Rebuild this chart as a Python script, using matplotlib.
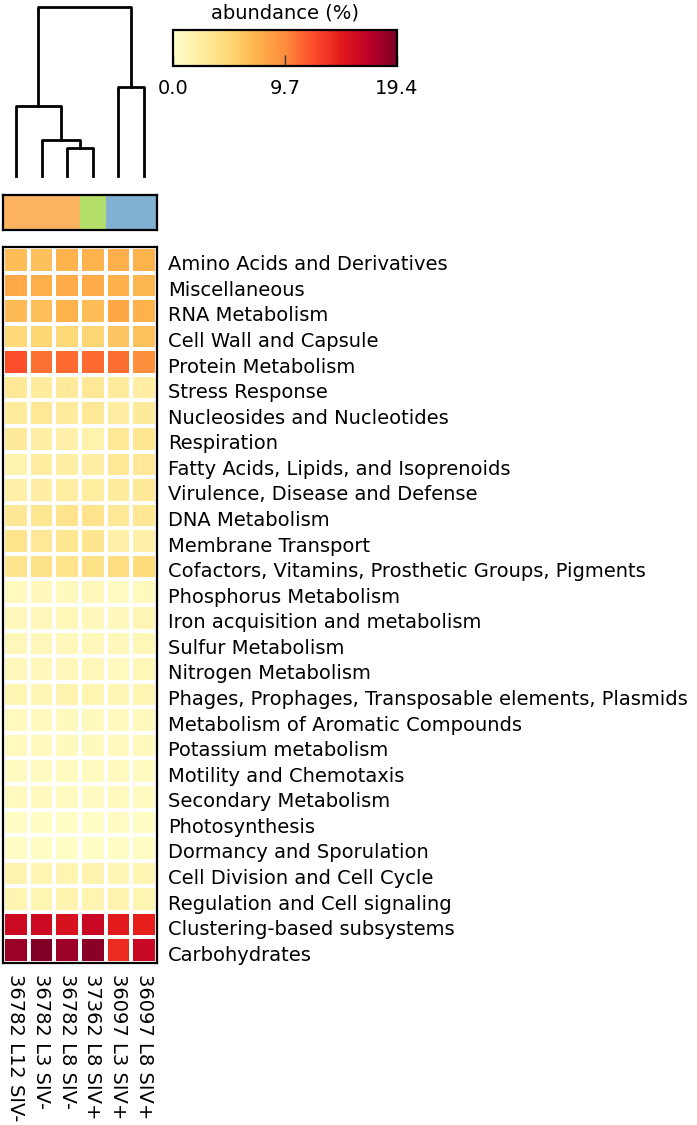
import numpy as np
import matplotlib
matplotlib.use("Agg")
import matplotlib.pyplot as plt
from matplotlib.colors import ListedColormap, Normalize
from matplotlib.transforms import ScaledTranslation
import matplotlib as mpl

categories = [
    "Amino Acids and Derivatives", "Miscellaneous", "RNA Metabolism",
    "Cell Wall and Capsule", "Protein Metabolism", "Stress Response",
    "Nucleosides and Nucleotides", "Respiration",
    "Fatty Acids, Lipids, and Isoprenoids", "Virulence, Disease and Defense",
    "DNA Metabolism", "Membrane Transport",
    "Cofactors, Vitamins, Prosthetic Groups, Pigments", "Phosphorus Metabolism",
    "Iron acquisition and metabolism", "Sulfur Metabolism", "Nitrogen Metabolism",
    "Phages, Prophages, Transposable elements, Plasmids",
    "Metabolism of Aromatic Compounds", "Potassium metabolism",
    "Motility and Chemotaxis", "Secondary Metabolism", "Photosynthesis",
    "Dormancy and Sporulation", "Cell Division and Cell Cycle",
    "Regulation and Cell signaling", "Clustering-based subsystems", "Carbohydrates",
]

samples = ["36782 L12 SIV-", "36782 L3 SIV-", "36782 L8 SIV-",
           "37362 L8 SIV+", "36097 L3 SIV+", "36097 L8 SIV+"]

values = [
    [6.6, 6.4, 7.2, 7.2, 7.5, 7.3],
    [7.9, 7.5, 7.7, 7.8, 7.4, 7.0],
    [6.8, 6.5, 7.2, 6.6, 8.0, 7.3],
    [4.8, 5.0, 4.8, 5.0, 6.0, 6.3],
    [12.2, 10.8, 11.0, 11.0, 10.9, 9.5],
    [3.0, 2.6, 2.8, 3.0, 2.7, 2.3],
    [2.7, 3.1, 2.7, 3.0, 2.4, 2.8],
    [2.8, 2.2, 1.9, 1.8, 3.0, 3.3],
    [1.6, 2.5, 2.2, 2.3, 3.0, 2.9],
    [2.1, 2.3, 2.4, 2.5, 2.6, 2.9],
    [3.1, 3.3, 3.5, 3.5, 3.0, 3.2],
    [3.6, 2.9, 3.3, 3.4, 2.0, 2.1],
    [3.5, 3.8, 3.6, 3.8, 4.3, 4.5],
    [0.9, 1.0, 0.9, 1.0, 0.7, 0.8],
    [1.0, 1.1, 1.2, 1.0, 1.0, 1.3],
    [1.1, 1.1, 1.0, 1.0, 1.0, 1.2],
    [1.0, 1.0, 1.0, 1.0, 0.9, 1.2],
    [1.4, 1.3, 1.6, 1.5, 1.3, 1.5],
    [0.9, 0.9, 0.9, 0.9, 0.8, 0.9],
    [0.8, 0.8, 0.8, 0.8, 0.9, 0.8],
    [0.7, 0.7, 0.7, 0.7, 0.9, 0.7],
    [0.8, 0.8, 0.7, 0.6, 0.8, 0.7],
    [0.5, 0.5, 0.5, 0.5, 0.6, 0.5],
    [0.5, 0.5, 0.5, 0.5, 0.5, 0.5],
    [1.6, 1.5, 1.5, 1.6, 1.3, 1.5],
    [1.5, 1.4, 1.6, 1.5, 1.8, 1.4],
    [16.0, 16.0, 15.3, 16.2, 14.5, 14.3],
    [18.3, 19.4, 18.2, 19.0, 13.7, 16.2],
]

# sample groups for the annotation bar
groups = [0, 0, 0, 1, 2, 2]
group_colors = ["#fdb462", "#b3de69", "#80b1d3"]

# dendrogram merges: (left node, right node, height); leaves 0..5, new nodes 6..
linkage = [
    (2, 3, 28),   # node 6
    (1, 6, 36),   # node 7
    (0, 7, 70),   # node 8
    (4, 5, 89),   # node 9
    (8, 9, 169),  # node 10
]

vmin, vmax = 0.0, 19.4
cbar_ticks = [0.0, 9.7, 19.4]

W, H = 697, 1125
fig = plt.figure(figsize=(W / 100, H / 100), dpi=100)

def ax_px(x0, y0, x1, y1):
    return fig.add_axes([x0 / W, 1 - y1 / H, (x1 - x0) / W, (y1 - y0) / H])

FS = 14
cmap = plt.get_cmap("YlOrRd")
norm = Normalize(vmin, vmax)
data = np.array(values)
nrow, ncol = data.shape

# heatmap
ax = ax_px(3, 247, 157, 963)
ax.pcolormesh(np.arange(ncol + 1), np.arange(nrow + 1), data, cmap=cmap, norm=norm,
              edgecolors="white", linewidth=2.8)
ax.set_xlim(0, ncol)
ax.set_ylim(nrow, 0)
ax.yaxis.tick_right()
ax.set_yticks(np.arange(nrow) + 0.5)
ax.set_yticklabels(categories, fontsize=FS)
ax.set_xticks(np.arange(ncol) + 0.5)
ax.set_xticklabels(samples, rotation=270, fontsize=FS, va="top", ha="center")
ax.tick_params(axis="y", length=0, pad=8)
ax.tick_params(axis="x", length=0, pad=8)
off = ScaledTranslation(0, -0.03, fig.dpi_scale_trans)
for lab in ax.get_yticklabels():
    lab.set_transform(lab.get_transform() + off)
for s in ax.spines.values():
    s.set_linewidth(1.6)
    s.set_color("black")

# annotation bar
axa = ax_px(3, 195, 157, 230)
axa.pcolormesh(np.arange(ncol + 1), [0, 1], np.array([groups]),
               cmap=ListedColormap(group_colors), vmin=-0.5, vmax=2.5)
axa.set_xlim(0, ncol)
axa.set_xticks([]); axa.set_yticks([])
for s in axa.spines.values():
    s.set_linewidth(1.6)

# dendrogram
axd = ax_px(3, 7, 157, 176)
pos = {i: i + 0.5 for i in range(ncol)}
hgt = {i: 0.0 for i in range(ncol)}
node = ncol
for a, b, h in linkage:
    xa, xb = pos[a], pos[b]
    axd.plot([xa, xa, xb, xb], [hgt[a], h, h, hgt[b]], color="black", lw=2,
             clip_on=False)
    pos[node] = (xa + xb) / 2
    hgt[node] = h
    node += 1
axd.set_xlim(0, ncol)
axd.set_ylim(0, 169)
axd.axis("off")

# colorbar
axc = ax_px(173, 30, 397, 66)
cb = mpl.colorbar.ColorbarBase(axc, cmap=cmap, norm=norm, orientation="horizontal")
cb.set_ticks(cbar_ticks)
cb.set_ticklabels([f"{t:.1f}" for t in cbar_ticks])
axc.tick_params(labelsize=FS, direction="in", length=8, width=1, pad=9,
                color="#333333")
cb.outline.set_linewidth(1.6)
axc.set_title("abundance (%)", fontsize=FS, pad=8)

fig.savefig("out.png", dpi=100)
